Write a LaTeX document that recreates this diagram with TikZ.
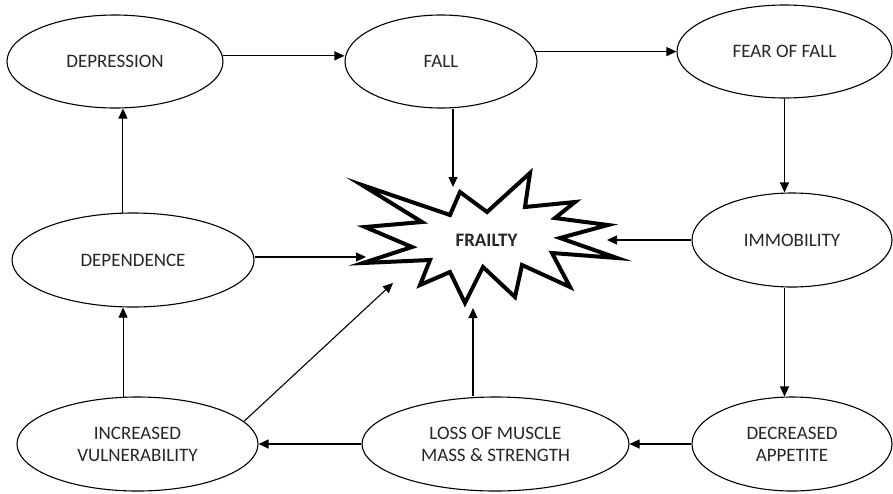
\documentclass[tikz,border=0pt]{standalone}
\usepackage{fontspec}
\setmainfont{Carlito}
\usetikzlibrary{arrows.meta,shapes.geometric}
\begin{document}
\begin{tikzpicture}[x=1pt,y=-1pt,
  oval/.style={ellipse,draw,line width=1.1pt,inner sep=0pt,align=center,
    font=\fontsize{19}{22}\selectfont,text=black!85},
  arr/.style={line width=1.1pt,-{Triangle[length=10pt,width=9pt]}},
  burst/.style={line width=4pt,line join=miter,miter limit=20}]
\useasboundingbox (0,0) rectangle (893,493);
\fill[white] (0,0) rectangle (893,493);
% ellipses
\node[oval,minimum width=216pt,minimum height=93pt] (depr) at (115,61.5) {DEPRESSION};
\node[oval,minimum width=192pt,minimum height=93pt] (fall) at (441,61.5) {FALL};
\node[oval,minimum width=215pt,minimum height=93pt] (fear) at (784.5,51.5) {FEAR OF FALL};
\node[oval,minimum width=200pt,minimum height=94pt] (immob) at (792,240) {IMMOBILITY};
\node[oval,minimum width=242pt,minimum height=94pt] (dep) at (133,260) {DEPENDENCE};
\node[oval,minimum width=241pt,minimum height=94pt] (incr) at (137.5,444) {INCREASED\\VULNERABILITY};
\node[oval,minimum width=267pt,minimum height=94pt] (loss) at (495.5,444) {LOSS OF MUSCLE\\MASS \& STRENGTH};
\node[oval,minimum width=200pt,minimum height=94pt] (dec) at (792,444) {DECREASED\\APPETITE};
% starburst
\draw[burst] (530,173) -- (525,207) -- (575,202) -- (555,218) -- (608,225) -- (560,238)
  -- (617,258) -- (552,253) -- (570,287) -- (522,265) -- (515,297) -- (483,267)
  -- (465,303) -- (450,272) -- (420,285) -- (430,260) -- (363,263) -- (412,247)
  -- (365,227) -- (422,222) -- (362,185) -- (450,215) -- (460,192) -- (487,212) -- cycle;
\node[font=\bfseries\fontsize{19}{22}\selectfont,text=black!85] (frailty) at (486.5,240) {FRAILTY};
\coordinate (ftop) at (453,187);
\coordinate (fright) at (607,240);
\coordinate (fbot) at (473,308);
\coordinate (fleft) at (366,257);
\coordinate (fdiag) at (393,283);
% connectors
\draw[arr] (depr.3) -- (depr.3 -| fall.west);
\draw[arr] (fall.6) -- (fall.6 -| fear.west);
\draw[arr] (ftop |- fall.south) -- (ftop);
\draw[arr] (fear.south) -- (fear.south |- immob.north);
\draw[arr] (immob.west) -- (fright);
\draw[arr] (fear.south |- immob.south) -- (fear.south |- dec.north);
\draw[arr] (dec.west) -- (loss.east);
\draw[arr] (loss.west) -- (incr.east);
\draw[arr] (fbot |- loss.north) -- (fbot);
\draw[arr] (incr.107) -- (incr.107 |- dep.south);
\draw[arr] (dep.102) -- (dep.102 |- depr.south);
\draw[arr] (incr.12) -- (fdiag);
\draw[arr] (fleft -| dep.east) -- (fleft);
\end{tikzpicture}
\end{document}
